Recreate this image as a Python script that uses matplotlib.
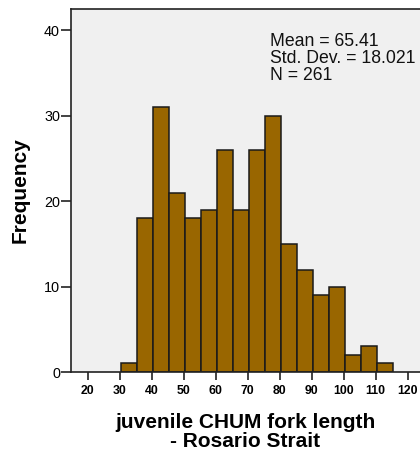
import numpy as np
import matplotlib
matplotlib.use('Agg')
import matplotlib.pyplot as plt

plt.rcParams['font.family'] = ['Liberation Sans', 'DejaVu Sans']

# Histogram bins (5 mm wide) and frequencies
bin_centers = [33, 38, 43, 48, 53, 58, 63, 68, 73, 78, 83, 88, 93, 98, 103, 108, 113]
counts = [1, 18, 31, 21, 18, 19, 26, 19, 26, 30, 15, 12, 9, 10, 2, 3, 1]
x_ticks = [20, 30, 40, 50, 60, 70, 80, 90, 100, 110, 120]
y_ticks = [0, 10, 20, 30, 40]
stats_text = "Mean = 65.41\nStd. Dev. = 18.021\nN = 261"

fig = plt.figure(figsize=(4.2, 4.51), dpi=100)
ax = fig.add_axes([71 / 420, 79 / 451, 1 - 71 / 420, 363 / 451])
ax.set_facecolor('#f0f0f0')

ax.bar(bin_centers, counts, width=5, color='#996600', edgecolor='#1a1a1a', linewidth=1.1)

ax.set_xlim(14.78, 123.84)
ax.set_ylim(0, 42.5)
ax.set_xticks(x_ticks)
ax.set_yticks(y_ticks)

for side in ['left', 'bottom', 'top']:
    ax.spines[side].set_color('#222222')
    ax.spines[side].set_linewidth(1.2)
ax.spines['right'].set_visible(False)

ax.tick_params(axis='y', direction='out', length=7, width=1.2, color='#222222', labelsize=10.4, pad=1)
ax.tick_params(axis='x', direction='out', length=6, width=1.2, color='#222222', labelsize=8.8, pad=3)
for lbl in ax.get_xticklabels():
    lbl.set_fontweight('bold')

ax.set_ylabel('Frequency', fontsize=15, fontweight='bold', labelpad=10)
ax.set_xlabel('juvenile CHUM fork length\n- Rosario Strait', fontsize=15,
              fontweight='bold', labelpad=12, linespacing=1.0)

ax.text(0.570, 0.935, stats_text, transform=ax.transAxes, fontsize=12.7,
        va='top', ha='left', linespacing=1.0, color='#111111')

plt.savefig('out.png', dpi=100)
